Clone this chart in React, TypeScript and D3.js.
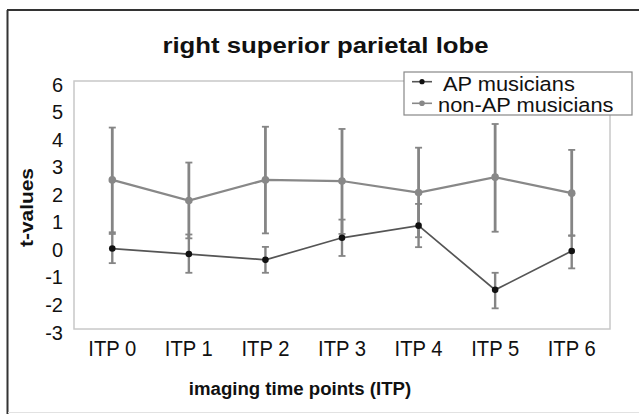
import * as d3 from 'd3';

const categories = ['ITP 0', 'ITP 1', 'ITP 2', 'ITP 3', 'ITP 4', 'ITP 5', 'ITP 6'];
const yTicks = [-3, -2, -1, 0, 1, 2, 3, 4, 5, 6];

// AP musicians
const apMean = [-0.08, -0.28, -0.49, 0.31, 0.75, -1.58, -0.17];
const apUpper = [0.45, 0.43, -0.02, 0.97, 1.54, -0.96, 0.4];
const apLower = [-0.61, -0.96, -0.96, -0.35, -0.03, -2.25, -0.8];

// non-AP musicians
const nonApMean = [2.41, 1.66, 2.41, 2.37, 1.95, 2.51, 1.93];
const nonApUpper = [4.31, 3.04, 4.34, 4.26, 3.58, 4.44, 3.5];
const nonApLower = [0.51, 0.29, 0.47, 0.45, 0.33, 0.53, 0.38];

const FONT = '"Liberation Sans", Arial, Helvetica, sans-serif';

export default function App() {
  const width = 639;
  const height = 414;
  const plot = { left: 74, right: 610, top: 81, bottom: 329 };

  const x = d3.scaleBand().domain(categories).range([plot.left, plot.right]).padding(0);
  const y = d3.scaleLinear().domain([-3, 6]).range([plot.bottom, plot.top]);
  const cx = (i: number) => (x(categories[i]) as number) + x.bandwidth() / 2;

  const line = d3
    .line<number>()
    .x((_, i) => cx(i))
    .y(d => y(d));

  const series = [
    { name: 'non-AP musicians', mean: nonApMean, upper: nonApUpper, lower: nonApLower, line: '#888', lw: 2.2, bar: '#858585', bw: 2.8, dot: '#888', r: 3.8 },
    { name: 'AP musicians', mean: apMean, upper: apUpper, lower: apLower, line: '#555', lw: 1.7, bar: '#858585', bw: 2.4, dot: '#111', r: 3.3 },
  ];

  const cap = 3.5;

  return (
    <svg width={width} height={height} style={{ position: 'absolute', left: 0, top: 0, background: '#fff' }} fontFamily={FONT}>
      <rect width={width} height={height} fill="#fff" />
      {/* outer frame */}
      <line x1={7.5} y1={10} x2={7.5} y2={414} stroke="#333" strokeWidth={2} />
      <line x1={7} y1={10} x2={639} y2={10} stroke="#333" strokeWidth={2} />
      <line x1={8} y1={412.5} x2={639} y2={412.5} stroke="#e2e2e2" strokeWidth={1} />

      {/* title */}
      <text transform="translate(325.5,53) scale(1.12,1)" textAnchor="middle" fontSize={23} fontWeight="bold" fill="#111">
        right superior parietal lobe
      </text>

      {/* plot box */}
      <rect x={plot.left} y={plot.top} width={plot.right - plot.left} height={plot.bottom - plot.top} fill="none" stroke="#c8c8c8" strokeWidth={1.5} />

      {/* y tick labels */}
      {yTicks.map(t => (
        <text key={t} x={63} y={y(t) + 3.5} dy="0.35em" textAnchor="end" fontSize={20} fill="#111">
          {t}
        </text>
      ))}

      {/* x tick labels */}
      {categories.map((c, i) => (
        <text key={c} transform={`translate(${cx(i)},356) scale(0.92,1)`} textAnchor="middle" fontSize={22} fill="#111">
          {c}
        </text>
      ))}

      {/* axis titles */}
      <text transform="translate(300,395) scale(0.98,1)" textAnchor="middle" fontSize={19} fontWeight="bold" fill="#111">
        imaging time points (ITP)
      </text>
      <text transform="translate(33,207.5) rotate(-90) scale(1.1,1)" textAnchor="middle" fontSize={19} fontWeight="bold" fill="#111">
        t-values
      </text>

      {/* series */}
      {series.map(s => (
        <g key={s.name}>
          {s.mean.map((_, i) => (
            <g key={i} stroke={s.bar} strokeWidth={s.bw}>
              <line x1={cx(i)} x2={cx(i)} y1={y(s.upper[i])} y2={y(s.lower[i])} />
              <line x1={cx(i) - cap} x2={cx(i) + cap} y1={y(s.upper[i])} y2={y(s.upper[i])} strokeWidth={1.8} />
              <line x1={cx(i) - cap} x2={cx(i) + cap} y1={y(s.lower[i])} y2={y(s.lower[i])} strokeWidth={1.8} />
            </g>
          ))}
          <path d={line(s.mean) || ''} fill="none" stroke={s.line} strokeWidth={s.lw} />
          {s.mean.map((v, i) => (
            <circle key={i} cx={cx(i)} cy={y(v)} r={s.r} fill={s.dot} />
          ))}
        </g>
      ))}

      {/* legend */}
      <rect x={404} y={72} width={228} height={43} fill="#fff" stroke="#888" strokeWidth={1.2} />
      <line x1={412} x2={432} y1={81.7} y2={81.7} stroke="#555" strokeWidth={1.6} />
      <circle cx={422} cy={81.7} r={2.6} fill="#111" />
      <text transform="translate(443,91) scale(1.12,1)" fontSize={19.5} fill="#111">
        AP musicians
      </text>
      <line x1={412} x2={432} y1={103.3} y2={103.3} stroke="#888" strokeWidth={1.6} />
      <circle cx={422} cy={103.3} r={2.8} fill="#888" />
      <text transform="translate(438,112) scale(1.12,1)" fontSize={19.5} fill="#111">
        non-AP musicians
      </text>
    </svg>
  );
}
